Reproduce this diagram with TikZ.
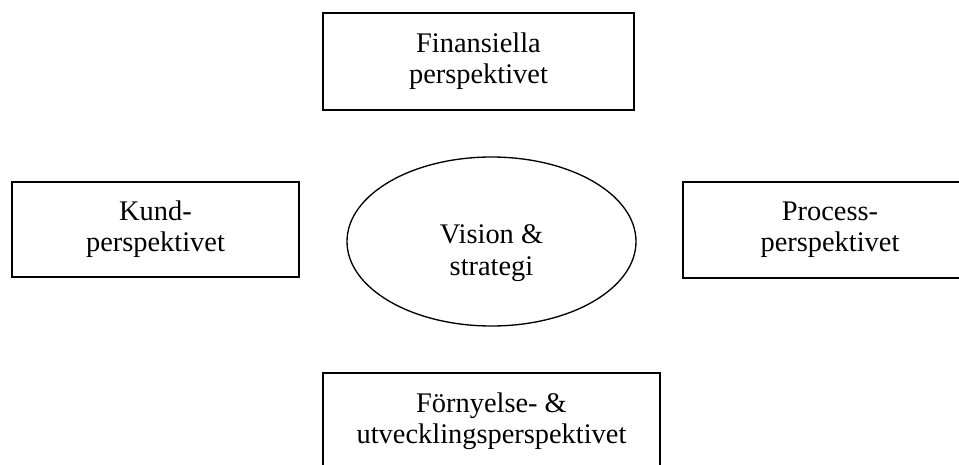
\documentclass[tikz,border=0pt]{standalone}
\usepackage{fontspec}
\setmainfont{Liberation Serif}
\usetikzlibrary{shapes.geometric}

\begin{document}
\begin{tikzpicture}[x=0.75pt, y=-0.75pt,
    perspbox/.style={draw, line width=1.3pt, inner sep=0pt, align=center,
      font=\fontsize{21.3}{23.3}\selectfont},
    visionshape/.style={draw, ellipse, line width=1pt, inner sep=0pt,
      minimum width=216.75pt, minimum height=126.75pt},
    visiontext/.style={align=center, inner sep=0pt,
      font=\fontsize{21.3}{24.5}\selectfont}]
    \useasboundingbox (0, 0) rectangle (959, 464);
    \node [perspbox, minimum width=233.25pt, minimum height=72.75pt] (fin) at (478.5, 61.5) {Finansiella\\perspektivet};
    \node [perspbox, minimum width=215.25pt, minimum height=71.25pt] (kund) at (155.5, 229.5) {Kund-\\perspektivet};
    \node [perspbox, minimum width=220.5pt, minimum height=72pt] (process) at (830, 230) {Process-\\perspektivet};
    \node [perspbox, minimum width=252.75pt, minimum height=72.75pt] (fornyelse) at (491.5, 421.5) {Förnyelse- \&\\utvecklingsperspektivet};
    \node [visionshape] (vision) at (491.5, 241.5) {};
    \node [visiontext] (visionlabel) at (491.5, 253) {Vision \&\\strategi};
  \end{tikzpicture}
\end{document}
